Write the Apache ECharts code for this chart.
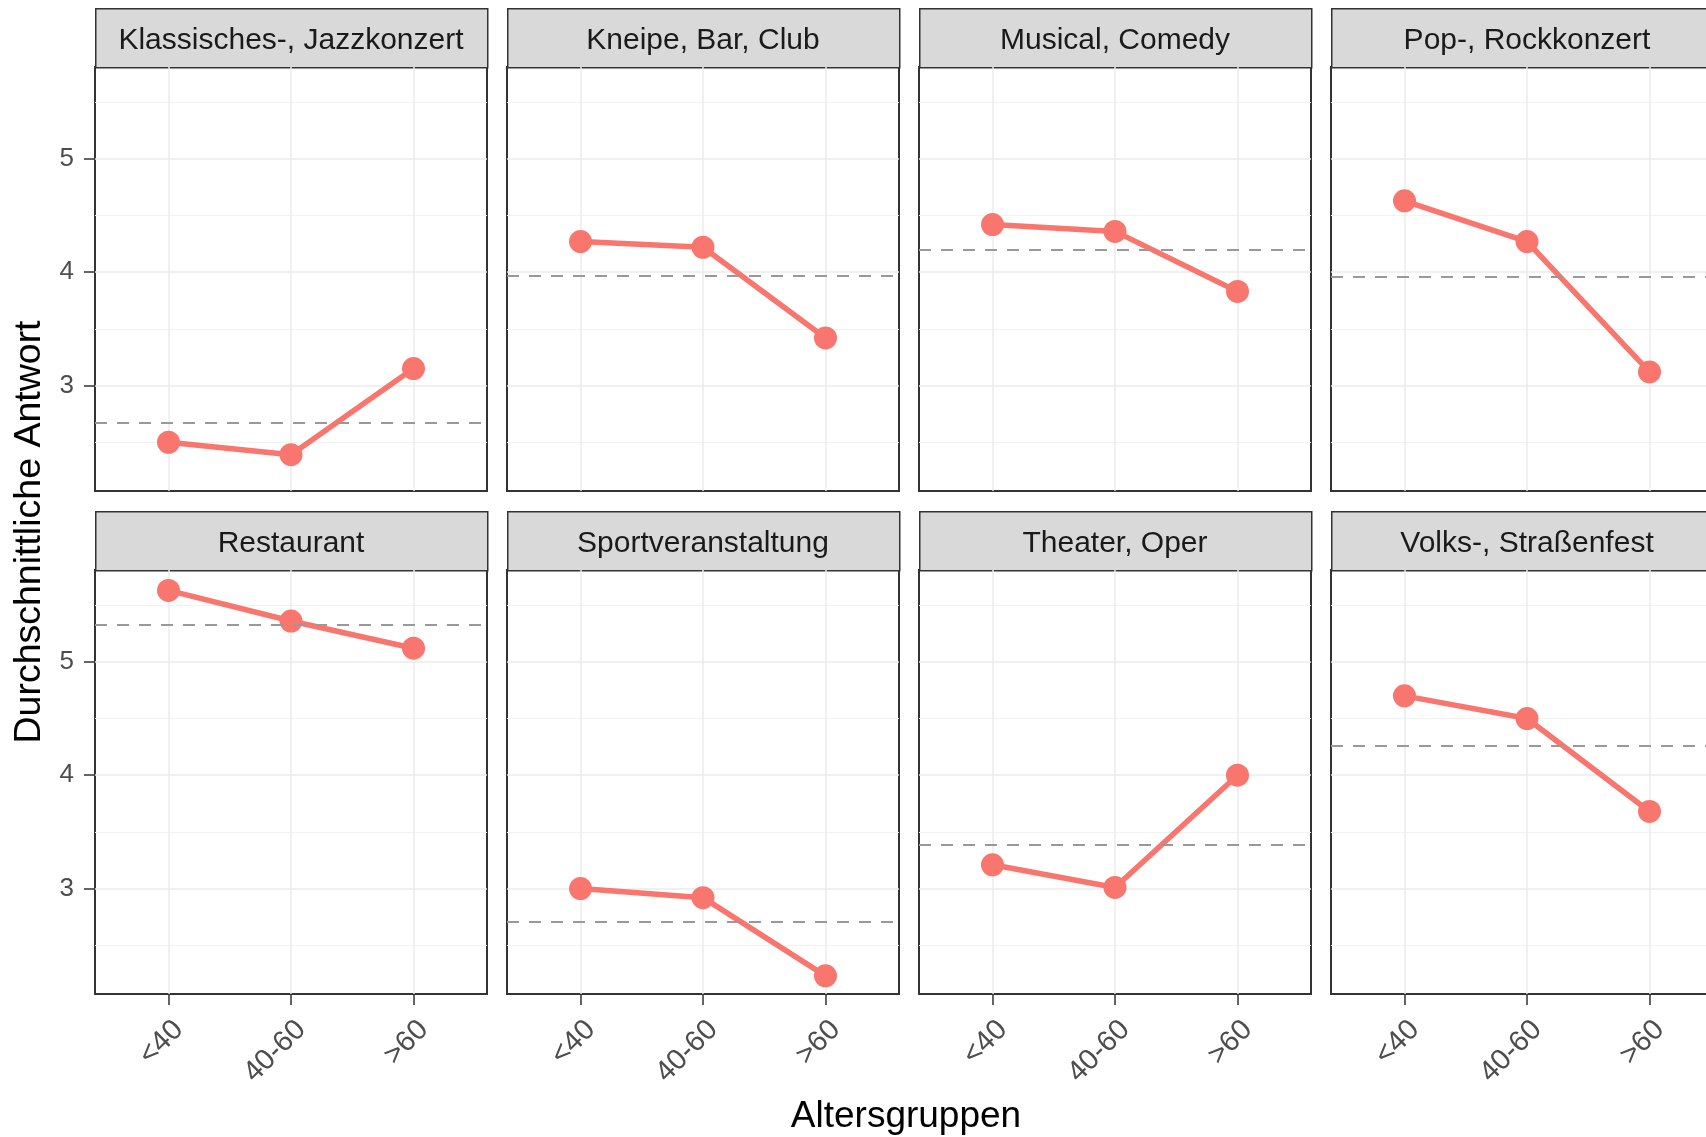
<!DOCTYPE html>
<html>
<head>
<meta charset="utf-8">
<script src="https://cdn.jsdelivr.net/npm/echarts@6/dist/echarts.min.js"></script>
<style>
  html, body { margin: 0; padding: 0; background: #fff; }
  #chart { width: 1706px; height: 1137px; }
</style>
</head>
<body>
<div id="chart"></div>
<script>
(function () {
	'use strict';

	/****** data *****/
	var ageGroups = ['<40', '40-60', '>60'];
	var panelNames = ['Klassisches-, Jazzkonzert', 'Kneipe, Bar, Club', 'Musical, Comedy', 'Pop-, Rockkonzert',
		'Restaurant', 'Sportveranstaltung', 'Theater, Oper', 'Volks-, Straßenfest'];
	var klassik = [2.50, 2.39, 3.15];
	var kneipe = [4.27, 4.22, 3.42];
	var musical = [4.42, 4.36, 3.83];
	var pop = [4.63, 4.27, 3.12];
	var restaurant = [5.63, 5.36, 5.12];
	var sport = [3.00, 2.92, 2.23];
	var theater = [3.21, 3.01, 4.00];
	var volksfest = [4.70, 4.50, 3.68];
	var means = [2.67, 3.97, 4.20, 3.96, 5.33, 2.71, 3.39, 4.26];
	var yMajorTicks = [3, 4, 5];
	var yMinorTicks = [2.5, 3.5, 4.5, 5.5];
	var panelValues = [klassik, kneipe, musical, pop, restaurant, sport, theater, volksfest];

	/****** layout *****/
	var font = "'Liberation Sans', Arial, sans-serif";
	var colLeft = [95, 507, 919, 1331];
	var rowTop = [67, 570];
	var panelW = 392, panelH = 424, stripH = 59;
	var yMin = 2.07, yMax = 5.81;
	var red = '#F8766D';

	var grids = [], xAxes = [], yAxes = [], series = [], graphics = [];

	panelNames.forEach(function (name, i) {
		var col = i % 4, row = Math.floor(i / 4);
		var left = colLeft[col], top = rowTop[row];

		grids.push({
			left: left, top: top, width: panelW, height: panelH,
			outerBoundsMode: 'none', containLabel: false,
			show: true, backgroundColor: '#fff', borderColor: '#333333', borderWidth: 2
		});

		xAxes.push({
			type: 'value', gridIndex: i, min: 0.4, max: 3.6,
			axisLine: { show: false },
			axisTick: { show: row === 1, length: 11, customValues: [1, 2, 3], lineStyle: { color: '#333333', width: 1.5 } },
			axisLabel: {
				show: row === 1, customValues: [1, 2, 3], rotate: 45,
				align: 'right', verticalAlign: 'top', margin: 21,
				fontSize: 29, color: '#4D4D4D', fontFamily: font,
				formatter: function (v) { return ageGroups[Math.round(v) - 1]; }
			},
			splitLine: { show: true, lineStyle: { color: '#EBEBEB', width: 1.5 } }
		});

		// major y axis
		yAxes.push({
			type: 'value', gridIndex: i, min: yMin, max: yMax, position: 'left',
			axisLine: { show: false },
			axisTick: { show: col === 0, length: 11, customValues: yMajorTicks, lineStyle: { color: '#333333', width: 1.5 } },
			axisLabel: { show: col === 0, customValues: yMajorTicks, margin: 21, fontSize: 26, color: '#4D4D4D', fontFamily: font },
			splitLine: { show: true, lineStyle: { color: '#EBEBEB', width: 1.5 } }
		});
		// minor grid lines
		yAxes.push({
			type: 'value', gridIndex: i, min: yMin, max: yMax, position: 'left',
			axisLine: { show: false },
			axisTick: { show: false, customValues: yMinorTicks },
			axisLabel: { show: false },
			splitLine: { show: true, lineStyle: { color: '#F2F2F2', width: 1 } }
		});

		// dashed mean line
		series.push({
			type: 'line', xAxisIndex: i, yAxisIndex: 2 * i, data: [], z: 2,
			markLine: {
				silent: true, symbol: 'none', label: { show: false },
				lineStyle: { type: [12, 10], color: '#999999', width: 2 },
				data: [{ yAxis: means[i] }]
			}
		});

		series.push({
			type: 'line', xAxisIndex: i, yAxisIndex: 2 * i, z: 3,
			data: panelValues[i].map(function (v, k) { return [k + 1, v]; }),
			symbol: 'circle', symbolSize: 23,
			lineStyle: { color: red, width: 5.5 },
			itemStyle: { color: red },
			emphasis: { disabled: true }
		});

		// facet strip
		graphics.push({
			type: 'rect', left: left, top: top - stripH,
			shape: { width: panelW, height: stripH },
			style: { fill: '#D9D9D9', stroke: '#333333', lineWidth: 1.5 }
		});
		graphics.push({
			type: 'text', x: left + panelW / 2, y: top - stripH / 2 + 3,
			style: { text: name, fontSize: 30, fontFamily: font, fill: '#1A1A1A', align: 'center', verticalAlign: 'middle' }
		});
	});

	graphics.push({
		type: 'text', x: 906, y: 1117,
		style: { text: 'Altersgruppen', fontSize: 37, fontFamily: font, fill: '#000', align: 'center', verticalAlign: 'middle' }
	});
	graphics.push({
		type: 'text', x: 30, y: 532, rotation: Math.PI / 2,
		style: { text: 'Durchschnittliche Antwort', fontSize: 37.5, fontFamily: font, fill: '#000', align: 'center', verticalAlign: 'middle' }
	});

	var chart = echarts.init(document.getElementById('chart'));
	chart.setOption({
		animation: false,
		grid: grids,
		xAxis: xAxes,
		yAxis: yAxes,
		series: series,
		graphic: graphics
	});
})();
</script>
</body>
</html>
